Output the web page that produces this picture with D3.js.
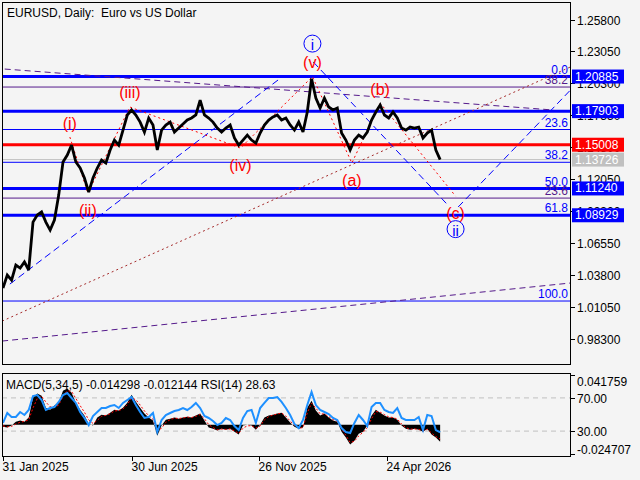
<!DOCTYPE html>
<html>
<head>
<meta charset="utf-8">
<script src="https://cdn.jsdelivr.net/npm/d3@7"></script>
<style>
  body { margin: 0; background: #f4f4f4; }
  text { font-family: "Liberation Sans", Arial, sans-serif; }
</style>
</head>
<body>
<div id="viz"></div>
<script>
"use strict";

// ---- values ----
const startDate = "2025-01-31";
const stepDays = 5;

const closes = [
  1.0266, 1.0378, 1.0334, 1.0464, 1.0438, 1.0490, 1.0421, 1.0834, 1.0895, 1.0921,
  1.0834, 1.0765, 1.0852, 1.1067, 1.1352, 1.1412, 1.1498, 1.1352, 1.1300, 1.1214,
  1.1093, 1.1214, 1.1300, 1.1369, 1.1343, 1.1455, 1.1541, 1.1498, 1.1627, 1.1757,
  1.1800, 1.1757, 1.1696, 1.1610, 1.1731, 1.1671, 1.1455, 1.1627, 1.1671, 1.1696,
  1.1610, 1.1645, 1.1679, 1.1714, 1.1731, 1.1757, 1.1886, 1.1757, 1.1731, 1.1696,
  1.1645, 1.1610, 1.1645, 1.1671, 1.1559, 1.1498, 1.1541, 1.1584, 1.1541, 1.1515,
  1.1602, 1.1671, 1.1714, 1.1740, 1.1757, 1.1714, 1.1731, 1.1671, 1.1627, 1.1696,
  1.1610, 1.1783, 1.2070, 1.1903, 1.1817, 1.1903, 1.1826, 1.1800, 1.1817, 1.1602,
  1.1541, 1.1455, 1.1541, 1.1584, 1.1559, 1.1610, 1.1714, 1.1783, 1.1843, 1.1757,
  1.1731, 1.1783, 1.1731, 1.1645, 1.1627, 1.1653, 1.1645, 1.1653, 1.1559, 1.1602,
  1.1627, 1.1455, 1.1373
];

const macdHist = [
  -0.0017, -0.0025, -0.0008, 0.0025, 0.0034, 0.0025, 0.0059, 0.0227, 0.0261, 0.0244,
  0.0143, 0.0126, 0.0160, 0.0185, 0.0286, 0.0303, 0.0269, 0.0185, 0.0126, 0.0076,
  0.0008, -0.0008, 0.0059, 0.0084, 0.0076, 0.0101, 0.0126, 0.0118, 0.0143, 0.0185,
  0.0252, 0.0193, 0.0143, 0.0093, 0.0059, 0.0034, -0.0093, -0.0008, 0.0042, 0.0050,
  0.0059, 0.0050, 0.0059, 0.0067, 0.0059, 0.0076, 0.0093, 0.0034, -0.0025, -0.0034,
  -0.0050, -0.0034, -0.0042, -0.0034, -0.0059, -0.0084, -0.0008, 0.0000, -0.0008, -0.0042,
  0.0000, 0.0059, 0.0076, 0.0084, 0.0093, 0.0101, 0.0059, 0.0017, -0.0017, -0.0034,
  -0.0025, 0.0143, 0.0202, 0.0118, 0.0076, 0.0093, 0.0059, 0.0034, 0.0025, -0.0059,
  -0.0109, -0.0168, -0.0135, -0.0076, -0.0059, -0.0008, 0.0076, 0.0126, 0.0101, 0.0076,
  0.0059, 0.0059, 0.0042, -0.0008, -0.0034, -0.0042, -0.0034, -0.0042, -0.0059, -0.0034,
  -0.0084, -0.0109, -0.0143
];

const macdSignal = [
  -0.0010, -0.0018, -0.0015, 0.0005, 0.0020, 0.0027, 0.0040, 0.0140, 0.0220, 0.0240,
  0.0190, 0.0150, 0.0145, 0.0165, 0.0240, 0.0285, 0.0280, 0.0220, 0.0160, 0.0105,
  0.0040, 0.0010, 0.0035, 0.0070, 0.0078, 0.0092, 0.0115, 0.0118, 0.0133, 0.0168,
  0.0225, 0.0210, 0.0165, 0.0115, 0.0075, 0.0045, -0.0050, -0.0030, 0.0020, 0.0042,
  0.0055, 0.0052, 0.0056, 0.0064, 0.0060, 0.0070, 0.0085, 0.0050, 0.0000, -0.0025,
  -0.0043, -0.0038, -0.0040, -0.0036, -0.0052, -0.0075, -0.0030, -0.0010, -0.0009, -0.0030,
  -0.0012, 0.0040, 0.0068, 0.0080, 0.0090, 0.0098, 0.0072, 0.0030, -0.0005, -0.0028,
  -0.0026, 0.0100, 0.0180, 0.0140, 0.0090, 0.0090, 0.0068, 0.0042, 0.0028, -0.0035,
  -0.0090, -0.0150, -0.0140, -0.0095, -0.0065, -0.0025, 0.0050, 0.0110, 0.0105, 0.0085,
  0.0065, 0.0060, 0.0047, 0.0005, -0.0025, -0.0038, -0.0036, -0.0040, -0.0053, -0.0040,
  -0.0070, -0.0100, -0.0121
];

const rsiValues = [
  39.8, 51.8, 47.0, 47.0, 53.0, 49.4, 55.4, 72.3, 73.5, 67.5,
  55.4, 57.8, 59.0, 65.1, 73.5, 75.9, 69.9, 63.9, 53.0, 45.8,
  37.3, 48.2, 53.0, 57.8, 57.8, 60.2, 61.4, 57.8, 63.9, 67.5,
  71.1, 61.4, 53.0, 45.8, 47.0, 51.8, 28.9, 43.4, 49.4, 51.8,
  54.2, 55.4, 57.8, 55.4, 59.0, 63.9, 57.8, 48.2, 45.8, 42.2,
  37.3, 39.8, 45.8, 43.4, 36.1, 31.3, 45.8, 54.2, 55.4, 39.8,
  57.8, 63.9, 69.9, 69.9, 71.1, 65.1, 57.8, 49.4, 38.6, 33.7,
  43.4, 61.4, 77.1, 61.4, 55.4, 53.0, 50.6, 45.8, 43.4, 33.7,
  28.9, 27.7, 39.8, 49.4, 43.4, 36.1, 59.0, 63.9, 63.9, 55.4,
  53.0, 51.8, 57.8, 45.8, 43.4, 43.4, 43.4, 47.0, 31.3, 49.4,
  48.2, 31.3, 28.63
];

const priceTicks = [1.25800, 1.23050, 1.20300, 1.17550, 1.14800, 1.12050,
                    1.09300, 1.06550, 1.03800, 1.01050, 0.98300];
const dateTicks = ["2025-01-31", "2025-06-30", "2025-11-26", "2026-04-24"];

const blueLevels = [1.20885, 1.17903, 1.11240, 1.08929];
const redLevels = [1.15008];
const lastPrice = 1.13726;

const fibHigh = 1.20885;
const fibLow = 1.01539;
const fibLevels = [0, 23.6, 38.2, 50, 61.8, 100];
const purpleFibLevels = [38.2, 23.6];
const purpleFibPrices = [1.1998, 1.1041];

const waveNames = ["(i)", "(ii)", "(iii)", "(iv)", "(v)", "(a)", "(b)", "(c)"];
const waveDates = ["2025-04-19", "2025-05-10", "2025-06-28", "2025-11-04",
                   "2026-01-27", "2026-03-14", "2026-04-16", "2026-07-13"];
const wavePrices = [1.1567, 1.1084, 1.1826, 1.1472, 1.2088, 1.1343, 1.1860, 1.1058];
const waveIsTop = [true, false, true, false, true, false, true, false];
const circledNames = ["i", "ii"];
const circledAt = [4, 7];

const blueDashLines = [
  [["2025-02-08", 1.0300], ["2025-12-24", 1.2093]],
  [["2026-01-28", 1.2214], ["2026-07-04", 1.0981]],
  [["2026-07-16", 1.0964], ["2026-11-24", 1.1972]]
];
const purpleDashLines = [
  [["2025-02-02", 1.2153], ["2026-11-04", 1.1800]],
  [["2025-01-30", 0.9809], ["2026-11-24", 1.0309]]
];
const brownDotLines = [
  [["2025-01-30", 0.9981], ["2026-11-24", 1.2171]]
];

const macdEdgeValues = [0.041759, -0.024707];
const rsiLevels = [70, 30];

// ---- chart ----
let width = 640, height = 480;
let left = 2, right = 570;
let mainTop = 2, mainBottom = 364;
let subTop = 373, subBottom = 456;

let parseDate = d3.utcParse("%Y-%m-%d");
let fmtDate = d3.utcFormat("%-d %b %Y");
let dates = closes.map((c, i) => d3.utcDay.offset(parseDate(startDate), i * stepDays));

let xScale = d3.scaleUtc()
               .domain([parseDate(dateTicks[0]), parseDate(dateTicks[3])])
               .range([3, 387]);

let yScale = d3.scaleLinear()
               .domain([1.01050, 1.25800])
               .range([306.7, 19.5]);

let macdScale = d3.scaleLinear()
                  .domain(macdEdgeValues.slice().reverse())
                  .range([454, 375]);

let rsiScale = d3.scaleLinear()
                 .domain([0, 100])
                 .range([subBottom, subTop]);

let svg = d3.select('#viz')
            .append('svg')
            .attr('width', width)
            .attr('height', height)
            .style('background', '#f4f4f4');

let defs = svg.append('defs');
defs.append('clipPath').attr('id', 'clipMain')
    .append('rect').attr('x', left).attr('y', mainTop)
    .attr('width', right - left).attr('height', mainBottom - mainTop);
defs.append('clipPath').attr('id', 'clipSub')
    .append('rect').attr('x', left).attr('y', subTop)
    .attr('width', right - left).attr('height', subBottom - subTop);

let main = svg.append('g').attr('clip-path', 'url(#clipMain)');

function hline(g, price, color, w) {
    g.append('line')
     .attr('x1', left).attr('x2', right)
     .attr('y1', yScale(price)).attr('y2', yScale(price))
     .attr('stroke', color).attr('stroke-width', w);
}

function fibPrice(lv) {
    return fibHigh - (fibHigh - fibLow) * lv / 100;
}

// horizontal levels
hline(main, lastPrice, '#c0c0c0', 1);
fibLevels.forEach(lv => hline(main, fibPrice(lv), '#0000ff', 1));
purpleFibPrices.forEach(p => hline(main, p, '#551a8b', 1));
blueLevels.forEach(p => hline(main, p, '#0000ff', 3));
redLevels.forEach(p => hline(main, p, '#ff0000', 3));

// trend lines
function trend(g, lines, color, dash, w) {
    g.selectAll(null)
     .data(lines)
     .enter()
     .append('line')
     .attr('x1', d => xScale(parseDate(d[0][0])))
     .attr('y1', d => yScale(d[0][1]))
     .attr('x2', d => xScale(parseDate(d[1][0])))
     .attr('y2', d => yScale(d[1][1]))
     .attr('stroke', color)
     .attr('stroke-width', w)
     .attr('stroke-dasharray', dash);
}
trend(main, purpleDashLines, '#551a8b', '6,4', 1);
trend(main, brownDotLines, '#a52a2a', '2,3', 1);
trend(main, blueDashLines, '#0000ff', '7,4', 1);

// wave path
let waveLine = d3.line()
                 .x((d, i) => xScale(parseDate(waveDates[i])))
                 .y(d => yScale(d));
main.append('path')
    .attr('d', waveLine(wavePrices))
    .attr('fill', 'none')
    .attr('stroke', '#ff0000')
    .attr('stroke-width', 1)
    .attr('stroke-dasharray', '2,3');

// price
let priceLine = d3.line()
                  .x((d, i) => xScale(dates[i]))
                  .y(d => yScale(d));
main.append('path')
    .attr('d', priceLine(closes))
    .attr('fill', 'none')
    .attr('stroke', '#000')
    .attr('stroke-width', 2.8)
    .attr('stroke-linejoin', 'miter')
    .attr('stroke-miterlimit', 3);

// fib labels
fibLevels.forEach(lv => {
    main.append('text')
        .attr('x', 568).attr('y', yScale(fibPrice(lv)) - 3)
        .attr('text-anchor', 'end')
        .attr('font-size', '12px')
        .attr('fill', '#0000ff')
        .text(lv.toFixed(1));
});
purpleFibLevels.forEach((lv, i) => {
    main.append('text')
        .attr('x', 568).attr('y', yScale(purpleFibPrices[i]) - 3)
        .attr('text-anchor', 'end')
        .attr('font-size', '12px')
        .attr('fill', '#551a8b')
        .text(lv.toFixed(1));
});

// wave labels
waveNames.forEach((name, i) => {
    main.append('text')
        .attr('x', xScale(parseDate(waveDates[i])))
        .attr('y', yScale(wavePrices[i]) + (waveIsTop[i] ? -14 : 17))
        .attr('text-anchor', 'middle')
        .attr('dominant-baseline', 'central')
        .attr('font-size', '16px')
        .attr('fill', '#ff0000')
        .text(name);
});
circledNames.forEach((name, k) => {
    let i = circledAt[k];
    let cx = xScale(parseDate(waveDates[i]));
    let cy = yScale(wavePrices[i]) + (waveIsTop[i] ? -33 : 33);
    main.append('circle')
        .attr('cx', cx).attr('cy', cy).attr('r', 8.5)
        .attr('fill', 'none').attr('stroke', '#0000ff').attr('stroke-width', 1);
    main.append('text')
        .attr('x', cx).attr('y', cy + 1)
        .attr('text-anchor', 'middle')
        .attr('dominant-baseline', 'central')
        .attr('font-size', '15px')
        .attr('fill', '#0000ff')
        .text(name);
});

// ---- indicator panel ----
let sub = svg.append('g').attr('clip-path', 'url(#clipSub)');

rsiLevels.forEach(v => {
    sub.append('line')
       .attr('x1', left).attr('x2', right)
       .attr('y1', rsiScale(v)).attr('y2', rsiScale(v))
       .attr('stroke', '#c0c0c0').attr('stroke-dasharray', '5,4');
});

let histArea = d3.area()
                 .x((d, i) => xScale(dates[i]))
                 .y0(macdScale(0))
                 .y1(d => macdScale(d));
sub.append('path')
   .attr('d', histArea(macdHist))
   .attr('fill', '#000');

let sigLine = d3.line()
                .x((d, i) => xScale(dates[i]))
                .y(d => macdScale(d));
sub.append('path')
   .attr('d', sigLine(macdSignal))
   .attr('fill', 'none')
   .attr('stroke', '#ff0000')
   .attr('stroke-dasharray', '2,2');

let rsiLine = d3.line()
                .x((d, i) => xScale(dates[i]))
                .y(d => rsiScale(d));
sub.append('path')
   .attr('d', rsiLine(rsiValues))
   .attr('fill', 'none')
   .attr('stroke', '#1e90ff')
   .attr('stroke-width', 2);

// ---- frames ----
svg.append('rect')
   .attr('x', left + 0.5).attr('y', mainTop + 0.5)
   .attr('width', right - left).attr('height', mainBottom - mainTop)
   .attr('fill', 'none').attr('stroke', '#000');
svg.append('rect')
   .attr('x', left + 0.5).attr('y', subTop + 0.5)
   .attr('width', right - left).attr('height', subBottom - subTop)
   .attr('fill', 'none').attr('stroke', '#000');

// ---- right price axis ----
priceTicks.forEach(p => {
    let y = Math.round(yScale(p)) + 0.5;
    svg.append('line')
       .attr('x1', right).attr('x2', right + 5)
       .attr('y1', y).attr('y2', y)
       .attr('stroke', '#000');
    svg.append('text')
       .attr('x', right + 7).attr('y', y)
       .attr('dominant-baseline', 'central')
       .attr('font-size', '12px')
       .attr('fill', '#000')
       .text(p.toFixed(5));
});

function priceBox(price, bg) {
    let y = yScale(price);
    svg.append('rect')
       .attr('x', right + 2).attr('y', y - 7)
       .attr('width', 52).attr('height', 14)
       .attr('fill', bg);
    svg.append('text')
       .attr('x', right + 5).attr('y', y)
       .attr('dominant-baseline', 'central')
       .attr('font-size', '12px')
       .attr('fill', '#fff')
       .text(price.toFixed(5));
}
blueLevels.forEach(p => priceBox(p, '#0000ff'));
redLevels.forEach(p => priceBox(p, '#ff0000'));
priceBox(lastPrice, '#c0c0c0');

// ---- indicator axis ----
macdEdgeValues.forEach((v, i) => {
    let y = Math.round(macdScale(v)) + 0.5;
    svg.append('line')
       .attr('x1', right).attr('x2', right + 5)
       .attr('y1', y).attr('y2', y).attr('stroke', '#000');
    svg.append('text')
       .attr('x', right + 7).attr('y', y + (i === 0 ? 6 : -5))
       .attr('dominant-baseline', 'central')
       .attr('font-size', '12px')
       .text(v.toFixed(6));
});
rsiLevels.forEach(v => {
    let y = Math.round(rsiScale(v)) + 0.5;
    svg.append('line')
       .attr('x1', right).attr('x2', right + 5)
       .attr('y1', y).attr('y2', y).attr('stroke', '#000');
    svg.append('text')
       .attr('x', right + 7).attr('y', y)
       .attr('dominant-baseline', 'central')
       .attr('font-size', '12px')
       .text(v.toFixed(2));
});

// ---- date axis ----
dateTicks.forEach(s => {
    let x = Math.round(xScale(parseDate(s))) + 0.5;
    svg.append('line')
       .attr('x1', x).attr('x2', x)
       .attr('y1', subBottom).attr('y2', subBottom + 5)
       .attr('stroke', '#000');
    svg.append('text')
       .attr('x', x - 1).attr('y', 471)
       .attr('font-size', '12px')
       .text(fmtDate(parseDate(s)));
});

// ---- titles ----
svg.append('text')
   .attr('x', 7).attr('y', 17)
   .attr('font-size', '12px')
   .attr('xml:space', 'preserve')
   .style('white-space', 'pre')
   .text('EURUSD, Daily:  Euro vs US Dollar');
svg.append('text')
   .attr('x', 6).attr('y', 389)
   .attr('font-size', '12px')
   .text('MACD(5,34,5) -0.014298 -0.012144 RSI(14) 28.63');
</script>
</body>
</html>
